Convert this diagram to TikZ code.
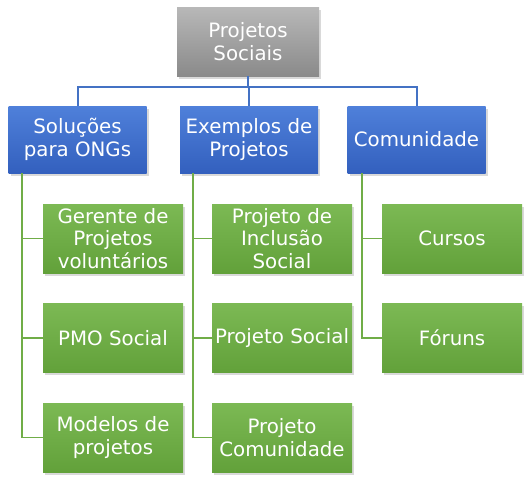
\documentclass[tikz,border=0pt]{standalone}
\usepackage{fontspec}
\setmainfont{DejaVu Sans}
\usetikzlibrary{shadows}
\definecolor{gtop}{HTML}{B8B8B8}
\definecolor{gbot}{HTML}{8A8A8A}
\definecolor{btop}{HTML}{4F80DA}
\definecolor{bbot}{HTML}{3360BE}
\definecolor{ntop}{HTML}{7CB954}
\definecolor{nbot}{HTML}{62A13A}
\definecolor{bline}{HTML}{4472C4}
\definecolor{nline}{HTML}{70AD47}
\tikzset{
  box/.style={rectangle, minimum width=140pt, minimum height=68pt, text=white,
    align=center, font=\fontsize{19.8}{22.5}\selectfont, inner sep=0pt,
    drop shadow={shadow xshift=2pt, shadow yshift=-2.5pt, opacity=0.3}},
  graybox/.style={box, minimum width=142pt, minimum height=69pt, top color=gtop, bottom color=gbot},
  bluebox/.style={box, minimum width=138pt, minimum height=67pt, top color=btop, bottom color=bbot},
  greenbox/.style={box, minimum width=140pt, minimum height=69pt, top color=ntop, bottom color=nbot},
  bconn/.style={draw=bline, line width=1.3pt},
  gconn/.style={draw=nline, line width=1.3pt},
}
\begin{document}
\begin{tikzpicture}[x=1pt,y=-1pt]
\useasboundingbox (0,0) rectangle (530,483);
\coordinate (hl) at (78,87);
\coordinate (hr) at (417,87);
\node[graybox] (root) at (248,41.5) {Projetos\\Sociais};
\node[bluebox] (b1) at (77.5,139.5) {Soluções\\para ONGs};
\node[bluebox] (b2) at (249,139.5) {Exemplos de\\Projetos};
\node[bluebox] (b3) at (416.5,139.5) {Comunidade};
\node[greenbox] (g11) at (113,238.5) {Gerente de\\Projetos\\voluntários};
\node[greenbox] (g12) at (113,338) {PMO Social};
\node[greenbox] (g13) at (113,437.5) {Modelos de\\projetos};
\node[greenbox] (g21) at (282,238.5) {Projeto de\\Inclusão\\Social};
\node[greenbox] (g22) at (282,338) {Projeto Social};
\node[greenbox] (g23) at (282,437.5) {Projeto\\Comunidade};
\node[greenbox] (g31) at (452,238.5) {Cursos};
\node[greenbox] (g32) at (452,338) {Fóruns};
\draw[bconn] (root.south) -- (root.south |- hl);
\draw[bconn] (b1.north -| hl) -- (hl) -- (hr) -- (b3.north -| hr);
\draw[bconn] (b2.north) -- (b2.north |- hl);
\coordinate (c1) at (22,0);
\draw[gconn] (b1.south -| c1) -- (g13.west -| c1) -- (g13.west);
\draw[gconn] (g11.west -| c1) -- (g11.west);
\draw[gconn] (g12.west -| c1) -- (g12.west);
\coordinate (c2) at (193,0);
\draw[gconn] (b2.south -| c2) -- (g23.west -| c2) -- (g23.west);
\draw[gconn] (g21.west -| c2) -- (g21.west);
\draw[gconn] (g22.west -| c2) -- (g22.west);
\coordinate (c3) at (362,0);
\draw[gconn] (b3.south -| c3) -- (g32.west -| c3) -- (g32.west);
\draw[gconn] (g31.west -| c3) -- (g31.west);
\end{tikzpicture}
\end{document}
